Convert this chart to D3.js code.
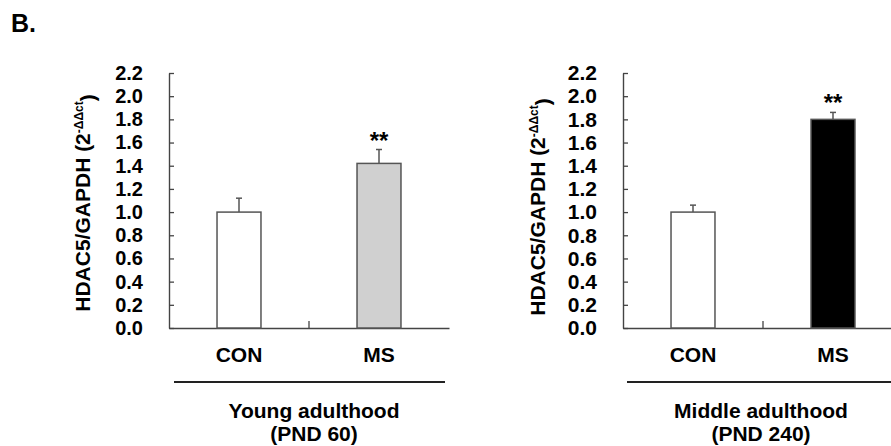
<!DOCTYPE html>
<html>
<head>
<meta charset="utf-8">
<script src="https://cdn.jsdelivr.net/npm/d3@7"></script>
<style>
  html, body { margin: 0; padding: 0; background: #fff; }
  svg { display: block; }
  text { font-family: "Liberation Sans", Arial, sans-serif; font-weight: bold; fill: #000; }
</style>
</head>
<body>
<svg id="chart" width="891" height="446"></svg>
<script>
// ---------------- data ----------------
const categories = ["CON", "MS"];
const youngMeans = [1.00, 1.42];
const youngErrors = [0.12, 0.12];
const middleMeans = [1.00, 1.80];
const middleErrors = [0.06, 0.06];
const significance = ["", "**"];
const yTicks = [0, 0.2, 0.4, 0.6, 0.8, 1.0, 1.2, 1.4, 1.6, 1.8, 2.0, 2.2];
const groupTitles = [["Young adulthood", "(PND 60)"], ["Middle adulthood", "(PND 240)"]];
const panelLabel = "B.";

// --------------- layout ---------------
const svg = d3.select("#chart");
const yTop = 73, yBottom = 328;

const panels = [
  { means: youngMeans, errors: youngErrors, fills: ["#ffffff", "#d0d0d0"], title: groupTitles[0],
    x0: 169, tickFont: 20, labelX: 82, labelY: 203, lineX0: 174, lineX1: 445, titleX: 314 },
  { means: middleMeans, errors: middleErrors, fills: ["#ffffff", "#000000"], title: groupTitles[1],
    x0: 623, tickFont: 21, labelX: 537, labelY: 207, lineX0: 627, lineX1: 905, titleX: 761 }
];

svg.append("text").attr("x", 11).attr("y", 32).style("font-size", "25px").text(panelLabel);

const y = d3.scaleLinear().domain([0, 2.2]).range([yBottom, yTop]);

panels.forEach(p => {
  const g = svg.append("g");
  const x = d3.scaleBand().domain(categories).range([p.x0, p.x0 + 280])
    .paddingInner(0.686).paddingOuter(0.343);

  // y axis (inward ticks)
  const yAxis = d3.axisLeft(y).tickValues(yTicks).tickFormat(d3.format(".1f"))
    .tickSizeInner(-5).tickSizeOuter(0).tickPadding(26);
  const ya = g.append("g").attr("transform", `translate(${p.x0},0)`).call(yAxis);
  ya.select(".domain").attr("stroke", "#444").attr("stroke-width", 1.4);
  ya.selectAll(".tick line").attr("stroke", "#444").attr("stroke-width", 1.3);
  ya.selectAll(".tick text").style("font-size", p.tickFont + "px").style("font-family", "Liberation Sans, Arial, sans-serif")
    .style("font-weight", "bold").attr("fill", "#000");

  // x axis
  const xAxis = d3.axisBottom(x).tickSize(0).tickPadding(19);
  const xa = g.append("g").attr("transform", `translate(0,${yBottom})`).call(xAxis);
  xa.select(".domain").attr("stroke", "#444").attr("stroke-width", 1.4);
  xa.selectAll(".tick text").style("font-size", "21px").style("font-family", "Liberation Sans, Arial, sans-serif")
    .style("font-weight", "bold").attr("fill", "#000");
  const sep = (x(categories[0]) + x.bandwidth() + x(categories[1])) / 2;
  g.append("line").attr("x1", sep).attr("x2", sep).attr("y1", yBottom).attr("y2", yBottom - 7)
    .attr("stroke", "#444").attr("stroke-width", 1.3);

  // bars
  g.selectAll("rect.bar").data(categories).join("rect")
    .attr("class", "bar")
    .attr("x", d => x(d))
    .attr("width", x.bandwidth())
    .attr("y", (d, i) => y(p.means[i]))
    .attr("height", (d, i) => yBottom - y(p.means[i]))
    .attr("fill", (d, i) => p.fills[i])
    .attr("stroke", "#555").attr("stroke-width", 1.5);

  // error bars (upper only)
  categories.forEach((c, i) => {
    const cx = x(c) + x.bandwidth() / 2;
    const yt = y(p.means[i] + p.errors[i]);
    g.append("line").attr("x1", cx).attr("x2", cx).attr("y1", y(p.means[i])).attr("y2", yt)
      .attr("stroke", "#555").attr("stroke-width", 1.5);
    g.append("line").attr("x1", cx - 3).attr("x2", cx + 3).attr("y1", yt).attr("y2", yt)
      .attr("stroke", "#555").attr("stroke-width", 1.5);
    if (significance[i]) {
      g.append("text").attr("x", cx).attr("y", yt - 1).attr("text-anchor", "middle")
        .style("font-size", "24px").text(significance[i]);
    }
  });

  // y label
  const lab = g.append("text")
    .attr("transform", `translate(${p.labelX},${p.labelY}) rotate(-90)`)
    .attr("text-anchor", "middle").attr("dy", "0.36em")
    .style("font-size", "21px");
  lab.append("tspan").text("HDAC5/GAPDH (2");
  lab.append("tspan").attr("dy", "-0.55em").style("font-size", "12px").text("-ΔΔct");
  lab.append("tspan").attr("dy", "0.55em").text(")");

  // group line & title
  g.append("line").attr("x1", p.lineX0).attr("x2", p.lineX1).attr("y1", 382).attr("y2", 382)
    .attr("stroke", "#222").attr("stroke-width", 2);
  g.append("text").attr("x", p.titleX).attr("y", 418).attr("text-anchor", "middle")
    .style("font-size", "21px").text(p.title[0]);
  g.append("text").attr("x", p.titleX).attr("y", 441).attr("text-anchor", "middle")
    .style("font-size", "21px").text(p.title[1]);
});
</script>
</body>
</html>
